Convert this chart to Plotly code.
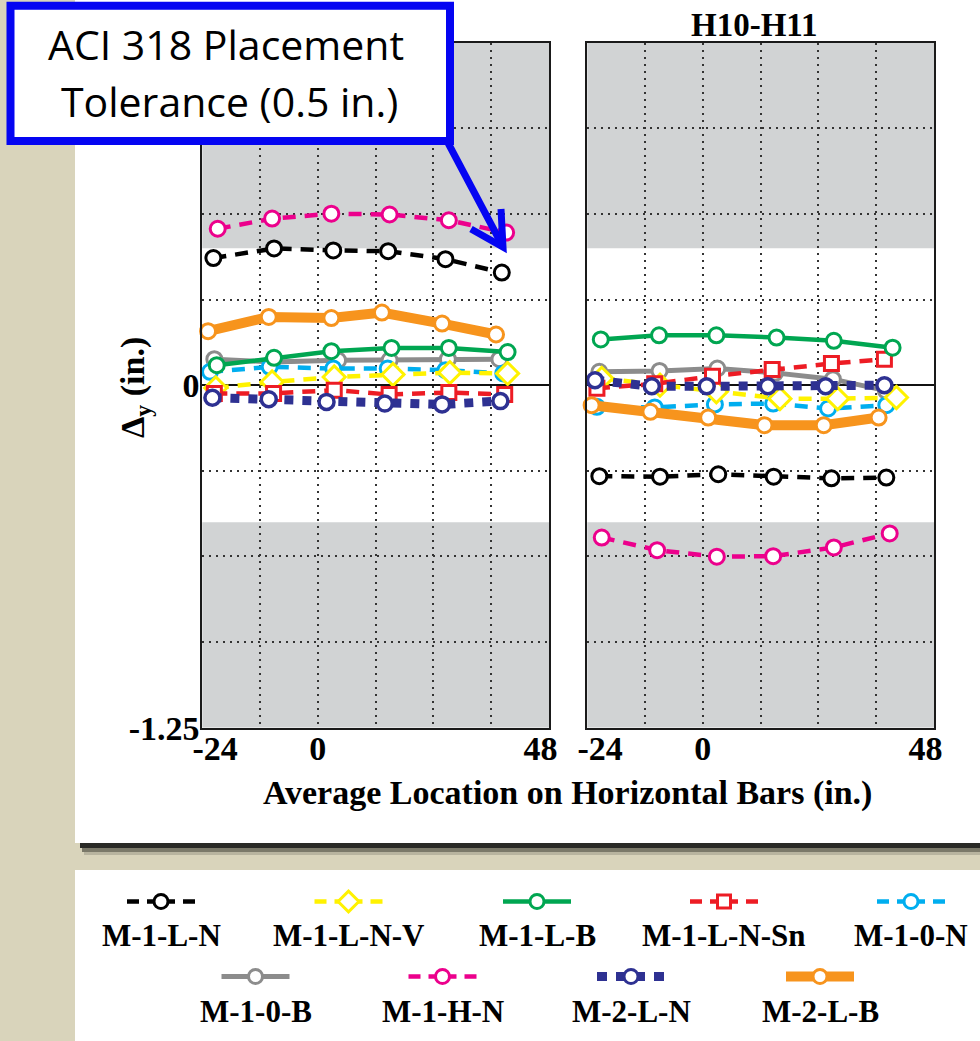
import plotly.graph_objects as go

W, H = 980, 1041

# ---------------- data ----------------
SERIES = ["M-1-L-N", "M-1-L-N-V", "M-1-L-B", "M-1-L-N-Sn", "M-1-0-N",
          "M-1-0-B", "M-1-H-N", "M-2-L-N", "M-2-L-B"]

# left panel (x: in., y: in.)
L_M1LN_x = [-21.7, -9.1, 3.2, 14.6, 26.5, 38.2]
L_M1LN_y = [0.464, 0.499, 0.492, 0.489, 0.460, 0.411]
L_M1LNV_x = [-21.2, -9.5, 3.4, 15.6, 27.4, 39.4]
L_M1LNV_y = [-0.010, 0.012, 0.030, 0.039, 0.046, 0.043]
L_M1LB_x = [-21.0, -9.1, 2.8, 15.3, 27.2, 39.4]
L_M1LB_y = [0.073, 0.100, 0.124, 0.136, 0.136, 0.121]
L_M1LNSn_x = [-21.5, -9.2, 3.4, 14.8, 27.2, 38.8]
L_M1LNSn_y = [-0.030, -0.030, -0.018, -0.034, -0.027, -0.034]
L_M10N_x = [-22.4, -10.0, 3.2, 14.5, 26.5, 38.5]
L_M10N_y = [0.049, 0.067, 0.061, 0.061, 0.055, 0.043]
L_M10B_x = [-21.5, -9.5, 4.2, 14.9, 27.0, 37.7]
L_M10B_y = [0.095, 0.085, 0.091, 0.091, 0.095, 0.095]
L_M1HN_x = [-20.8, -9.5, 2.8, 14.9, 27.2, 39.1]
L_M1HN_y = [0.571, 0.608, 0.626, 0.623, 0.602, 0.557]
L_M2LN_x = [-21.9, -10.2, 1.8, 13.9, 25.8, 37.9]
L_M2LN_y = [-0.046, -0.051, -0.061, -0.067, -0.070, -0.058]
L_M2LB_x = [-22.8, -10.2, 2.8, 13.3, 25.8, 37.0]
L_M2LB_y = [0.197, 0.249, 0.245, 0.265, 0.225, 0.185]

# right panel (H10-H11)
R_M1LN_x = [-21.5, -8.9, 3.2, 14.7, 26.7, 38.1]
R_M1LN_y = [-0.332, -0.334, -0.325, -0.334, -0.340, -0.337]
R_M1LNV_x = [-21.0, -8.9, 2.8, 16.0, 28.0, 40.2]
R_M1LNV_y = [0.025, 0.000, -0.024, -0.049, -0.049, -0.045]
R_M1LB_x = [-21.2, -9.1, 2.8, 15.3, 27.2, 39.4]
R_M1LB_y = [0.167, 0.182, 0.182, 0.174, 0.162, 0.137]
R_M1LNSn_x = [-22.0, -10.0, 2.0, 14.4, 26.7, 37.7]
R_M1LNSn_y = [-0.011, 0.005, 0.033, 0.057, 0.079, 0.095]
R_M10N_x = [-22.0, -10.0, 2.5, 14.6, 26.0, 38.1]
R_M10N_y = [-0.079, -0.081, -0.070, -0.067, -0.085, -0.073]
R_M10B_x = [-21.5, -9.0, 3.0, 15.0, 27.0, 38.0]
R_M10B_y = [0.049, 0.052, 0.061, 0.045, 0.022, -0.020]
R_M1HN_x = [-21.0, -9.5, 2.9, 14.6, 27.2, 38.8]
R_M1HN_y = [-0.556, -0.602, -0.626, -0.624, -0.592, -0.541]
R_M2LN_x = [-22.4, -10.6, 0.8, 13.5, 25.5, 37.7]
R_M2LN_y = [0.018, -0.004, -0.004, -0.004, -0.004, 0.000]
R_M2LB_x = [-23.1, -10.9, 1.1, 12.8, 25.1, 36.5]
R_M2LB_y = [-0.073, -0.097, -0.118, -0.146, -0.146, -0.118]

LEFT = {
    "M-1-L-N": (L_M1LN_x, L_M1LN_y), "M-1-L-N-V": (L_M1LNV_x, L_M1LNV_y),
    "M-1-L-B": (L_M1LB_x, L_M1LB_y), "M-1-L-N-Sn": (L_M1LNSn_x, L_M1LNSn_y),
    "M-1-0-N": (L_M10N_x, L_M10N_y), "M-1-0-B": (L_M10B_x, L_M10B_y),
    "M-1-H-N": (L_M1HN_x, L_M1HN_y), "M-2-L-N": (L_M2LN_x, L_M2LN_y),
    "M-2-L-B": (L_M2LB_x, L_M2LB_y),
}
RIGHT = {
    "M-1-L-N": (R_M1LN_x, R_M1LN_y), "M-1-L-N-V": (R_M1LNV_x, R_M1LNV_y),
    "M-1-L-B": (R_M1LB_x, R_M1LB_y), "M-1-L-N-Sn": (R_M1LNSn_x, R_M1LNSn_y),
    "M-1-0-N": (R_M10N_x, R_M10N_y), "M-1-0-B": (R_M10B_x, R_M10B_y),
    "M-1-H-N": (R_M1HN_x, R_M1HN_y), "M-2-L-N": (R_M2LN_x, R_M2LN_y),
    "M-2-L-B": (R_M2LB_x, R_M2LB_y),
}

X_TICKS = [-24, -12, 0, 12, 24, 36, 48]
X_TICKTEXT = ["\u00a0\u00a0\u00a0-24", "", "0", "", "", "", "48\u00a0\u00a0"]
Y_TICKS = [-1.25, -0.9375, -0.625, -0.3125, 0, 0.3125, 0.625, 0.9375, 1.25]
Y_TICKTEXT = ["-1.25", "", "", "", "0", "", "", "", ""]
TOL = 0.5
Y_LIM = 1.25

# ---------------- styles ----------------
DASH = "13px,9px"
LEG_DASH = "12px,8px,28px,8px,12px"
STYLE = {
    "M-1-L-N":    dict(color="#000000", dash=DASH, ldash=LEG_DASH, width=4.5, symbol="circle", msize=15, mlw=3),
    "M-1-L-N-V":  dict(color="#fff200", dash=DASH, ldash=LEG_DASH, width=4.5, symbol="diamond", msize=17, mlw=3),
    "M-1-L-B":    dict(color="#00a651", dash="solid", ldash="solid", width=4.5, symbol="circle", msize=15, mlw=3),
    "M-1-L-N-Sn": dict(color="#ed1c24", dash=DASH, ldash=LEG_DASH, width=4.5, symbol="square", msize=14, mlw=3),
    "M-1-0-N":    dict(color="#00aeef", dash=DASH, ldash=LEG_DASH, width=4.5, symbol="circle", msize=15, mlw=3),
    "M-1-0-B":    dict(color="#8c8c8c", dash="solid", ldash="solid", width=5, symbol="circle", msize=15, mlw=3),
    "M-1-H-N":    dict(color="#ec008c", dash=DASH, ldash=LEG_DASH, width=4.5, symbol="circle", msize=15, mlw=3),
    "M-2-L-N":    dict(color="#2e3192", dash="9px,9px", ldash="10px,9px", width=9, symbol="circle", msize=15, mlw=3.5),
    "M-2-L-B":    dict(color="#f7941d", dash="solid", ldash="solid", width=10, symbol="circle", msize=15, mlw=3),
}
DRAW_ORDER = ["M-1-0-B", "M-1-0-N", "M-1-L-N-V", "M-1-L-N-Sn", "M-1-L-B",
              "M-1-L-N", "M-1-H-N", "M-2-L-B", "M-2-L-N"]

SERIF = "Liberation Serif, Times New Roman, serif"
SANS = "Open Sans, Noto Sans, sans-serif"
BEIGE = "#d9d4bb"
BAND = "#d1d3d4"
BLUE = "#0505f2"


def px(xp):
    return xp / W


def py(yp):
    return 1 - yp / H


fig = go.Figure()

for panel, data, xa, ya in (("L", LEFT, "x", "y"), ("R", RIGHT, "x2", "y2")):
    for name in DRAW_ORDER:
        s = STYLE[name]
        xs, ys = data[name]
        fig.add_trace(go.Scatter(
            x=xs, y=ys, xaxis=xa, yaxis=ya, mode="lines+markers", name=name,
            showlegend=False, cliponaxis=False,
            line=dict(color=s["color"], width=s["width"], dash=s["dash"]),
            marker=dict(symbol=s["symbol"], size=s["msize"], color="white",
                        line=dict(color=s["color"], width=s["mlw"])),
        ))

# ---------------- custom legend (symbol above label) ----------------
LEG_ROW1 = SERIES[:5]
LEG_ROW2 = SERIES[5:]
LEG_X1 = [161, 348.5, 537, 724, 911]
LEG_X2 = [255.5, 442.5, 631, 820]
LEG_Y_SAMPLE = [901.5, 976.5]
LEG_Y_LABEL = [935.5, 1011]
HALF = 34

annotations = []
for row, (names, xs) in enumerate(((LEG_ROW1, LEG_X1), (LEG_ROW2, LEG_X2))):
    for name, cx in zip(names, xs):
        s = STYLE[name]
        yy = LEG_Y_SAMPLE[row]
        fig.add_trace(go.Scatter(
            x=[cx - HALF, cx + HALF], y=[yy, yy], xaxis="x3", yaxis="y3",
            mode="lines", showlegend=False, hoverinfo="skip",
            line=dict(color=s["color"], width=min(s["width"], 10), dash=s["ldash"]),
        ))
        fig.add_trace(go.Scatter(
            x=[cx], y=[yy], xaxis="x3", yaxis="y3", mode="markers",
            showlegend=False, hoverinfo="skip",
            marker=dict(symbol=s["symbol"], size=s["msize"] - 1, color="white",
                        line=dict(color=s["color"], width=3)),
        ))
        annotations.append(dict(
            x=cx, y=LEG_Y_LABEL[row], xref="x3", yref="y3", text=name,
            showarrow=False, xanchor="center", yanchor="middle",
            font=dict(family=SERIF, size=31, color="black", weight="bold"),
        ))

# ---------------- axes ----------------
XD_L = [px(202.3), px(549.0)]
XD_R = [px(587.3), px(934.0)]
YD = [py(727.7), py(42.7)]

common_x = dict(range=[-24, 48], tickmode="array", tickvals=X_TICKS, ticktext=X_TICKTEXT,
                showgrid=True, gridcolor="#333333", gridwidth=1.5, griddash="2px,5px",
                showline=True, linecolor="#1a1a1a", linewidth=2, mirror=True,
                zeroline=False, ticks="", fixedrange=True, automargin=False,
                ticklabelstandoff=-11,
                tickfont=dict(family=SERIF, size=34, color="black", weight="bold"))
common_y = dict(range=[-Y_LIM, Y_LIM], tickmode="array", tickvals=Y_TICKS,
                showgrid=True, gridcolor="#333333", gridwidth=1.5, griddash="2px,5px",
                showline=True, linecolor="#1a1a1a", linewidth=2, mirror=True,
                zeroline=True, zerolinecolor="#111111", zerolinewidth=2, ticks="",
                fixedrange=True, automargin=False, ticklabelstandoff=-6,
                tickfont=dict(family=SERIF, size=34, color="black", weight="bold"))

layout = dict(
    width=W, height=H, autosize=False,
    margin=dict(l=0, r=0, t=0, b=0, pad=0, autoexpand=False),
    paper_bgcolor=BEIGE, plot_bgcolor="white", showlegend=False,
    xaxis=dict(domain=XD_L, anchor="y", **common_x),
    yaxis=dict(domain=YD, anchor="x", ticktext=Y_TICKTEXT, **common_y),
    xaxis2=dict(domain=XD_R, anchor="y2", **common_x),
    yaxis2=dict(domain=YD, anchor="x2", showticklabels=False, **common_y),
    xaxis3=dict(domain=[px(75), 1], anchor="y3", range=[75, 980], visible=False,
                fixedrange=True, automargin=False),
    yaxis3=dict(domain=[0, py(870)], anchor="x3", range=[1041, 870], visible=False,
                fixedrange=True, automargin=False),
)

shapes = [
    # white panels
    dict(type="rect", xref="paper", yref="paper", x0=px(75), x1=1, y0=py(843), y1=1,
         fillcolor="white", line=dict(width=0), layer="below"),
    dict(type="rect", xref="paper", yref="paper", x0=px(75), x1=1, y0=0, y1=py(870),
         fillcolor="white", line=dict(width=0), layer="below"),
    # shadow under the upper panel
    dict(type="rect", xref="paper", yref="paper", x0=px(80), x1=1, y0=py(848), y1=py(843),
         fillcolor="#2a2a26", line=dict(width=0), layer="below"),
    dict(type="rect", xref="paper", yref="paper", x0=px(82), x1=1, y0=py(852), y1=py(848),
         fillcolor="#7b7969", line=dict(width=0), layer="below"),
    dict(type="rect", xref="paper", yref="paper", x0=px(84), x1=1, y0=py(855), y1=py(852),
         fillcolor="#b8b49f", line=dict(width=0), layer="below"),
]
# tolerance bands (|dy| > 0.5 in.)
for xr, yr in (("x", "y"), ("x2", "y2")):
    shapes.append(dict(type="rect", xref=f"{xr} domain", yref=yr, x0=0, x1=1, y0=TOL, y1=Y_LIM,
                       fillcolor=BAND, line=dict(width=0), layer="below"))
    shapes.append(dict(type="rect", xref=f"{xr} domain", yref=yr, x0=0, x1=1, y0=-Y_LIM, y1=-TOL,
                       fillcolor=BAND, line=dict(width=0), layer="below"))

# callout box and arrow
shapes.append(dict(type="rect", xref="paper", yref="paper", x0=px(10.5), x1=px(450),
                   y0=py(141), y1=py(5.7), fillcolor="white",
                   line=dict(color=BLUE, width=8), layer="above"))
shapes.append(dict(type="line", xref="paper", yref="paper", x0=px(447), y0=py(141),
                   x1=px(501), y1=py(243), line=dict(color=BLUE, width=7), layer="above"))
shapes.append(dict(type="path", xref="paper", yref="paper",
                   path=f"M {px(471)},{py(229)} L {px(503)},{py(247)} L {px(501)},{py(209)}",
                   line=dict(color=BLUE, width=7), layer="above"))

annotations += [
    dict(x=px(226), y=py(44), xref="paper", yref="paper", text="ACI 318 Placement",
         showarrow=False, xanchor="center", yanchor="middle",
         font=dict(family=SANS, size=41, color="black")),
    dict(x=px(229), y=py(101), xref="paper", yref="paper", text="Tolerance (0.5 in.)",
         showarrow=False, xanchor="center", yanchor="middle",
         font=dict(family=SANS, size=41, color="black")),
    dict(x=px(754), y=py(25), xref="paper", yref="paper", text="H10-H11",
         showarrow=False, xanchor="center", yanchor="middle",
         font=dict(family=SERIF, size=33, color="black", weight="bold")),
    dict(x=px(567), y=py(793), xref="paper", yref="paper",
         text="Average Location on Horizontal Bars (in.)",
         showarrow=False, xanchor="center", yanchor="middle",
         font=dict(family=SERIF, size=34, color="black", weight="bold")),
    dict(x=px(135), y=py(388), xref="paper", yref="paper",
         text="\u0394<sub>y</sub> (in.)", textangle=-90,
         showarrow=False, xanchor="center", yanchor="middle",
         font=dict(family=SERIF, size=34, color="black", weight="bold")),
]

fig.update_layout(**layout, shapes=shapes, annotations=annotations)

POST = ("document.documentElement.style.margin='0';"
        "document.documentElement.style.overflow='hidden';"
        "document.body.style.margin='0';document.body.style.padding='0';"
        "document.body.style.overflow='hidden';")
fig.write_html("out.html", config={"responsive": False, "displayModeBar": False},
               post_script=POST)
